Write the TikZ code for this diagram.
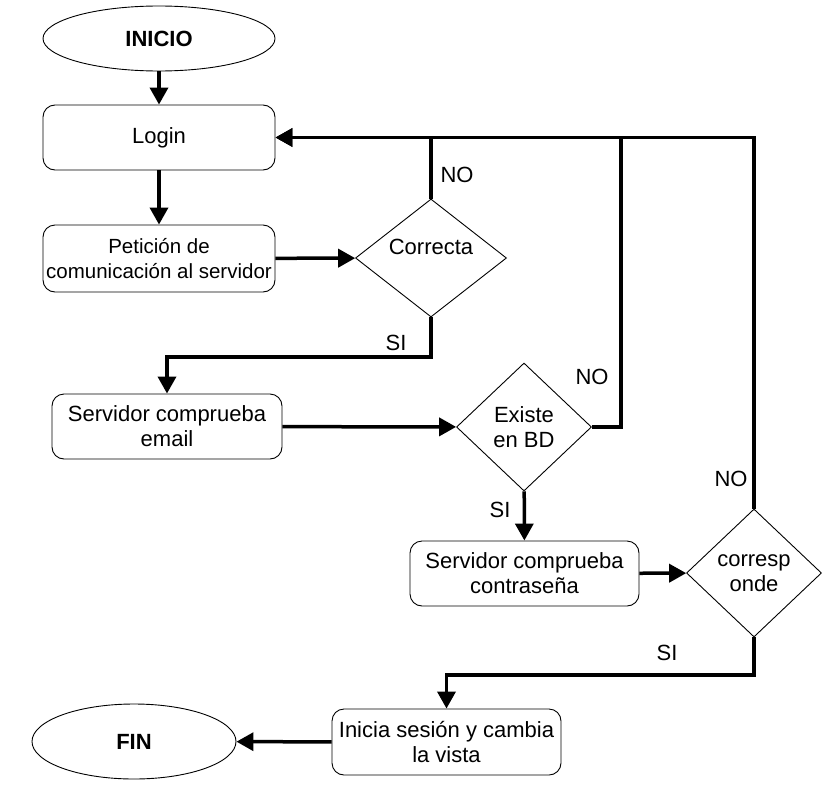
\documentclass[tikz,border=0pt]{standalone}
\usepackage{fontspec}
\setmainfont{Liberation Sans}
\usetikzlibrary{shapes.geometric,arrows.meta}
\begin{document}
\begin{tikzpicture}[x=1pt,y=-1pt,
    every node/.style={font=\fontsize{22}{25}\selectfont, align=center},
    caja/.style={draw, line width=0.9pt, rounded corners=12pt, inner sep=0pt,
      minimum width=230pt, minimum height=65pt},
    terminal/.style={draw, ellipse, line width=0.9pt, inner sep=0pt, font=\fontsize{22}{25}\selectfont\bfseries},
    decision/.style={draw, diamond, line width=0.9pt, inner sep=0pt},
    flecha/.style={line width=3.5pt, -{Triangle[length=17pt,width=18pt]}},
    linea/.style={line width=3.5pt}]
  \useasboundingbox (0,0) rectangle (837,800);
  % nodos
  \draw
    (159,38.5) node[terminal, minimum width=232pt, minimum height=65pt] (inicio){INICIO}
    (159,137.5) node[caja, minimum width=232pt] (login){Login}
    (159,258.5) node[caja, minimum width=232pt, minimum height=67pt, font=\fontsize{20.5}{25}\selectfont] (peticion){Petición de\\comunicación al servidor}
    (431,258) node[decision, minimum width=151pt, minimum height=118pt] (correcta){\raisebox{11pt}[\height][\depth]{Correcta}}
    (167,426.5) node[caja] (email){Servidor comprueba\\email}
    (524,427) node[decision, minimum width=135pt, minimum height=128pt] (existe){Existe\\en BD}
    (524.5,573.5) node[caja, minimum width=229pt] (contrasena){Servidor comprueba\\contraseña}
    (754,573) node[decision, minimum width=135pt, minimum height=128pt] (corresponde){corresp\\onde}
    (446.5,742) node[caja, minimum width=229pt, minimum height=66pt] (inicia){Inicia sesión y cambia\\la vista}
    (134,741.5) node[terminal, minimum width=204pt, minimum height=75pt] (fin){FIN};
  % puntos de paso
  \coordinate (existeNO) at (621,137.5);
  \coordinate (correctaSI) at (431,357);
  \coordinate (correspondeSI) at (754,675);
  % etiquetas
  \node (no1) at (457,175) {NO};
  \node (no2) at (592,377) {NO};
  \node (no3) at (731,479) {NO};
  \node (si1) at (396,343) {SI};
  \node (si2) at (500,510) {SI};
  \node (si3) at (667,653) {SI};
  % conectores
  \begin{scope}[flecha]
    \draw (inicio) to (login);
    \draw (login) to (peticion);
    \draw (peticion) to (correcta);
    \draw (correcta.north) |- (login.east);
    \draw (corresponde.north) |- (login.east);
    \draw (correcta.south) -- (correctaSI) -| (email.north);
    \draw (email) to (existe);
    \draw (existe) to (contrasena);
    \draw (contrasena) to (corresponde);
    \draw (corresponde.south) -- (correspondeSI) -| (inicia.north);
    \draw (inicia) to (fin);
  \end{scope}
  \draw[linea] (existe.east) -| (existeNO);
\end{tikzpicture}
\end{document}
